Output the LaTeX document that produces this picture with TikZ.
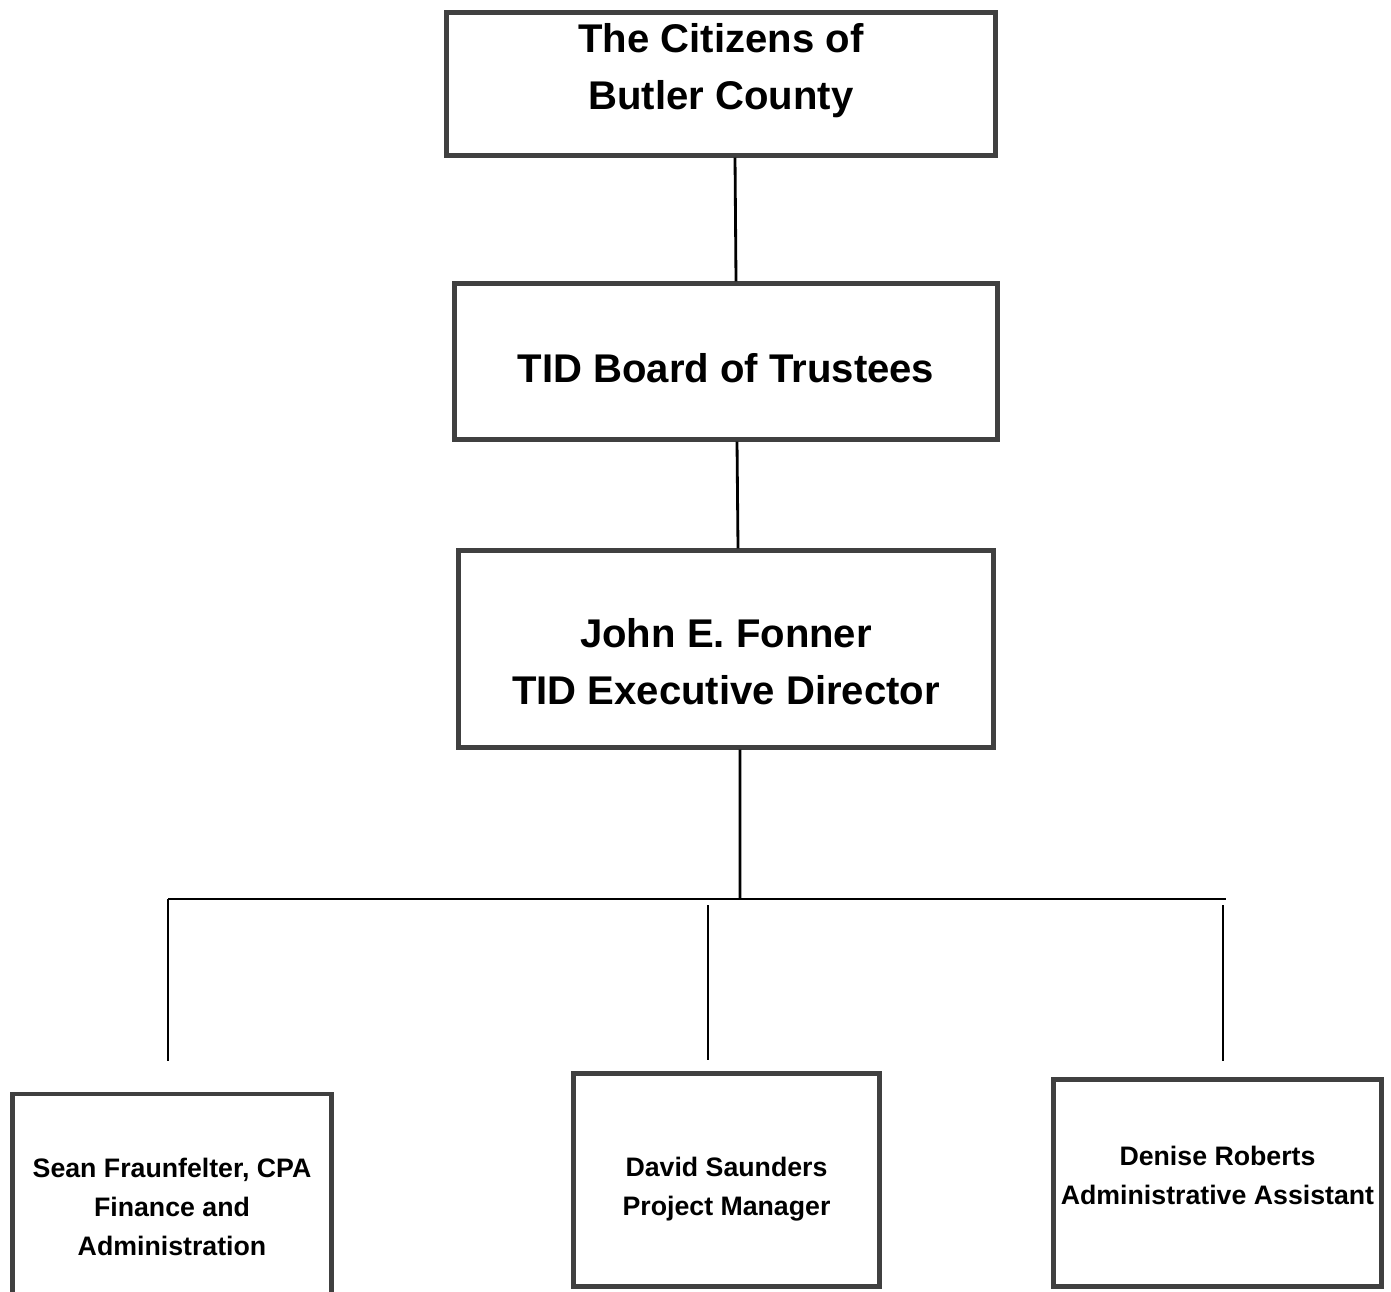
\documentclass[tikz,border=0pt]{standalone}
\usepackage{fontspec}
\setmainfont{Liberation Sans}
\usepackage{tikz}
\usetikzlibrary{positioning}
\newcommand*{\px}{0.025cm}

\begin{document}
\begin{tikzpicture}[x=0.025cm,y=-0.025cm,
	box/.style={rectangle,draw=black!75,line width=3pt,align=center,inner sep=0pt},
	big/.style={box,font=\fontsize{28.5pt}{40.5pt}\selectfont\bfseries},
	small/.style={box,font=\fontsize{19pt}{27.7pt}\selectfont\bfseries},
	sink/.style={text height=#1,text depth=0pt},
	link/.style={line width=2pt}]
	\useasboundingbox[fill=white] (0,0) rectangle (1391,1291);
	% top of the chart
	\node[big,sink=36pt,minimum width=549*\px,minimum height=143*\px] (citizens) at (721,84) {The Citizens of\\Butler County};
	\node[big,sink=29.2pt,minimum width=543*\px,minimum height=156*\px] (board) at (726,361.5) {TID Board of Trustees};
	\node[big,sink=79pt,minimum width=535*\px,minimum height=197*\px] (director) at (726,649) {John E. Fonner\\TID Executive Director};
	% staff
	\node[small,sink=85.3pt,minimum width=319*\px,minimum height=201.5*\px] (sean) at (172,1195) {Sean Fraunfelter, CPA\\Finance and\\Administration};
	\node[small,sink=50.5pt,minimum width=306*\px,minimum height=213*\px] (david) at (726.5,1180) {David Saunders\\Project Manager};
	\node[small,sink=30pt,minimum width=328*\px,minimum height=207*\px] (denise) at (1217.5,1183) {Denise Roberts\\Administrative Assistant};
	\coordinate (bus) at (740,899);
	\coordinate (busL) at (168,899);
	\coordinate (busR) at (1226,899);
	\coordinate (dropM) at (708,905);
	\coordinate (dropR) at (1223,905);
	\draw[link] ([xshift=0.35cm]citizens.south) -- ([xshift=0.25cm]board.north);
	\draw[link] ([xshift=0.275cm]board.south) -- ([xshift=0.3cm]director.north);
	\draw[link] ([xshift=0.35cm]director.south) -- (bus);
	\draw[link] (busL) -- (busR);
	\draw[link,shorten >=0.79cm] (busL) -- (busL |- sean.north);
	\draw[link,shorten >=0.29cm] (dropM) -- (dropM |- david.north);
	\draw[link,shorten >=0.41cm] (dropR) -- (dropR |- denise.north);
\end{tikzpicture}
\end{document}
